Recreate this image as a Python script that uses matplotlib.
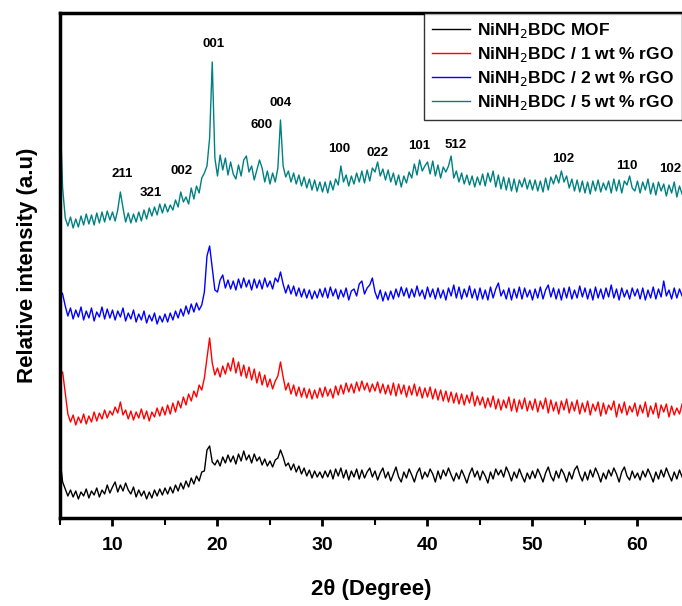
import numpy as np
import matplotlib
matplotlib.use("Agg")
import matplotlib.pyplot as plt

plt.rcParams["font.family"] = ["Liberation Sans", "DejaVu Sans"]

# 2theta grid, 0.25 degree step
two_theta = np.arange(5.0, 64.26, 0.25)

# values (arbitrary units, stacked offsets included)
mof = [59, 36, 29, 22, 28, 21, 27, 19, 26, 22, 29, 20, 27, 23, 30, 21, 28, 24, 33, 25,
       31, 36, 26, 33, 27, 35, 28, 24, 31, 21, 28, 22, 27, 19, 26, 20, 28, 22, 29, 23,
       30, 24, 31, 25, 33, 27, 35, 29, 37, 31, 40, 34, 42, 37, 46, 47, 68, 72, 56, 53,
       58, 52, 61, 55, 63, 56, 62, 54, 64, 57, 67, 58, 63, 55, 64, 57, 61, 53, 59, 52,
       57, 51, 58, 60, 68, 61, 52, 55, 48, 54, 46, 52, 44, 50, 42, 48, 40, 47, 41, 46,
       40, 47, 41, 48, 39, 49, 42, 50, 40, 48, 38, 47, 41, 49, 39, 48, 40, 46, 50, 41,
       47, 38, 45, 50, 40, 46, 37, 44, 51, 41, 36, 46, 40, 49, 43, 36, 45, 50, 39, 46,
       41, 49, 44, 36, 47, 39, 48, 42, 50, 43, 37, 45, 39, 48, 42, 35, 44, 50, 41, 47,
       38, 47, 42, 35, 46, 39, 49, 43, 48, 41, 51, 45, 37, 46, 40, 49, 42, 36, 45, 39,
       47, 40, 49, 43, 36, 45, 51, 42, 37, 47, 40, 49, 44, 36, 46, 39, 48, 52, 43, 37,
       46, 38, 48, 41, 50, 44, 36, 45, 39, 48, 42, 50, 44, 36, 46, 51, 42, 38, 47, 40,
       45, 38, 47, 41, 49, 43, 36, 46, 39, 48, 41, 50, 43, 37, 46, 39, 48, 41]

rgo1 = [146, 146, 125, 104, 96, 103, 93, 101, 95, 104, 94, 102, 96, 106, 97, 105, 99, 108, 100, 107,
        103, 111, 105, 116, 103, 108, 99, 107, 98, 106, 100, 109, 99, 107, 97, 106, 101, 110, 102, 111,
        103, 113, 104, 115, 106, 117, 110, 121, 113, 124, 117, 127, 121, 133, 128, 140, 160, 180, 155, 143,
        150, 141, 152, 144, 155, 147, 160, 145, 156, 142, 153, 140, 151, 138, 149, 135, 146, 133, 143, 131,
        139, 129, 137, 142, 156, 141, 128, 135, 124, 133, 122, 131, 121, 130, 120, 129, 119, 128, 120, 130,
        121, 131, 122, 129, 120, 132, 123, 133, 124, 135, 126, 134, 125, 136, 127, 137, 128, 135, 126, 134,
        127, 136, 125, 134, 124, 133, 123, 135, 122, 134, 124, 133, 121, 132, 123, 134, 122, 131, 120, 130,
        121, 131, 119, 129, 118, 128, 117, 127, 116, 126, 115, 125, 114, 124, 113, 123, 115, 126, 112, 122,
        113, 121, 110, 120, 111, 122, 109, 119, 108, 118, 110, 121, 107, 119, 106, 118, 109, 120, 107, 117,
        108, 119, 106, 117, 109, 120, 105, 118, 107, 116, 104, 117, 108, 119, 105, 116, 107, 118, 104, 115,
        106, 117, 103, 114, 107, 116, 102, 115, 104, 113, 108, 117, 101, 114, 105, 116, 103, 112, 106, 115,
        102, 113, 105, 116, 101, 112, 104, 115, 100, 113, 106, 114, 101, 112, 103, 110, 104, 114]

rgo2 = [228, 224, 212, 202, 210, 199, 208, 201, 211, 198, 207, 200, 210, 197, 206, 201, 211, 199, 209, 200,
        208, 198, 207, 201, 210, 197, 205, 199, 208, 196, 204, 198, 207, 195, 203, 197, 205, 194, 202, 196,
        204, 196, 205, 198, 207, 200, 209, 202, 212, 204, 214, 206, 215, 208, 213, 226, 262, 272, 250, 228,
        226, 238, 243, 230, 238, 229, 237, 228, 239, 230, 240, 231, 238, 228, 239, 230, 238, 229, 240, 231,
        237, 229, 240, 236, 246, 234, 225, 233, 224, 232, 222, 230, 221, 229, 220, 228, 219, 227, 220, 229,
        221, 230, 220, 231, 222, 229, 219, 228, 221, 230, 218, 227, 229, 222, 234, 237, 224, 230, 233, 240,
        226, 219, 228, 217, 226, 218, 227, 219, 229, 221, 231, 222, 230, 220, 229, 221, 232, 222, 228, 219,
        231, 221, 229, 219, 230, 220, 228, 218, 230, 222, 233, 220, 231, 219, 229, 221, 232, 220, 229, 218,
        230, 219, 228, 218, 231, 220, 229, 235, 222, 228, 219, 230, 218, 229, 220, 231, 219, 230, 221, 228,
        218, 229, 220, 231, 219, 228, 233, 221, 230, 219, 229, 218, 230, 220, 231, 219, 228, 220, 232, 221,
        230, 219, 229, 218, 231, 220, 229, 219, 230, 221, 233, 220, 229, 218, 230, 221, 228, 219, 230, 222,
        229, 219, 230, 218, 228, 220, 231, 219, 229, 221, 237, 222, 228, 219, 230, 220, 229, 222]

rgo5 = [408, 330, 300, 292, 301, 290, 299, 291, 302, 293, 304, 294, 303, 293, 305, 295, 306, 296, 307, 298,
        306, 297, 308, 326, 310, 296, 305, 295, 304, 296, 306, 297, 308, 299, 310, 302, 311, 303, 314, 305,
        314, 306, 313, 308, 318, 311, 326, 316, 321, 314, 330, 319, 332, 325, 340, 345, 352, 380, 456, 360,
        342, 363, 348, 360, 343, 356, 344, 339, 353, 342, 358, 362, 346, 352, 338, 348, 358, 350, 336, 347,
        334, 345, 336, 350, 398, 352, 341, 347, 336, 345, 334, 343, 332, 341, 330, 339, 328, 338, 327, 336,
        326, 336, 325, 337, 328, 339, 333, 352, 336, 343, 332, 342, 334, 345, 336, 347, 335, 348, 337, 350,
        346, 356, 342, 349, 338, 348, 336, 345, 333, 343, 331, 342, 335, 346, 340, 354, 343, 358, 347, 352,
        356, 344, 357, 342, 353, 340, 351, 346, 352, 362, 340, 347, 336, 345, 334, 343, 333, 342, 331, 341,
        333, 344, 332, 345, 336, 347, 331, 343, 329, 341, 328, 340, 327, 339, 326, 338, 331, 340, 329, 338,
        328, 338, 327, 337, 326, 340, 328, 341, 334, 343, 335, 347, 336, 342, 330, 339, 327, 338, 326, 337,
        325, 336, 324, 337, 327, 338, 326, 335, 328, 337, 325, 339, 327, 338, 325, 337, 333, 342, 330, 327,
        337, 325, 336, 328, 339, 324, 335, 323, 336, 327, 334, 322, 333, 325, 336, 321, 332, 324]

series_names = ["NiNH$_2$BDC MOF", "NiNH$_2$BDC / 1 wt % rGO",
                "NiNH$_2$BDC / 2 wt % rGO", "NiNH$_2$BDC / 5 wt % rGO"]
series_colors = ["black", "red", "blue", "#008080"]

# peak labels: (text, 2theta, height)
peak_text = ["001", "004", "211", "321", "002", "600", "100", "022", "101", "512", "102", "110", "102"]
peak_pos = [19.6, 26.0, 10.9, 13.6, 16.6, 24.2, 31.6, 35.2, 39.2, 42.7, 52.9, 59.0, 63.1]
peak_h = [474, 415, 344, 325, 347, 393, 369, 365, 372, 373, 359, 352, 349]

fig = plt.figure(figsize=(6.82, 6.06), dpi=100)
ax = fig.add_axes([60 / 682, 88 / 606, 622 / 682, 505 / 606])

for data, name, c in zip([mof, rgo1, rgo2, rgo5], series_names, series_colors):
    ax.plot(two_theta, data, color=c, linewidth=1.0, label=name)

for t, x, h in zip(peak_text, peak_pos, peak_h):
    ax.text(x, h, t, ha="center", va="center", fontsize=9.5, fontweight="bold")

ax.set_xlim(5, 64.24)
ax.set_ylim(0, 505)
ax.set_yticks([])
ax.set_xticks([10, 20, 30, 40, 50, 60])
ax.set_xticks([5, 15, 25, 35, 45, 55], minor=True)
ax.tick_params(axis="x", which="major", direction="out", length=6, width=2,
               labelsize=14, pad=8)
ax.tick_params(axis="x", which="minor", direction="out", length=5, width=1.5)
for lbl in ax.get_xticklabels():
    lbl.set_fontweight("bold")
for side in ["left", "top", "bottom"]:
    ax.spines[side].set_linewidth(2.5)
ax.spines["right"].set_visible(False)

ax.set_xlabel("2θ (Degree)", fontsize=16, fontweight="bold", labelpad=18)
ax.set_ylabel("Relative intensity (a.u)", fontsize=16, fontweight="bold", labelpad=16)

leg = ax.legend(loc="upper right", prop={"weight": "bold", "size": 12.5},
                frameon=True, fancybox=False, handlelength=2.2, handletextpad=0.4,
                borderaxespad=0, labelspacing=0.3, borderpad=0.45)
leg.get_frame().set_edgecolor("black")
leg.get_frame().set_linewidth(1.0)

fig.savefig("out.png", dpi=100)
